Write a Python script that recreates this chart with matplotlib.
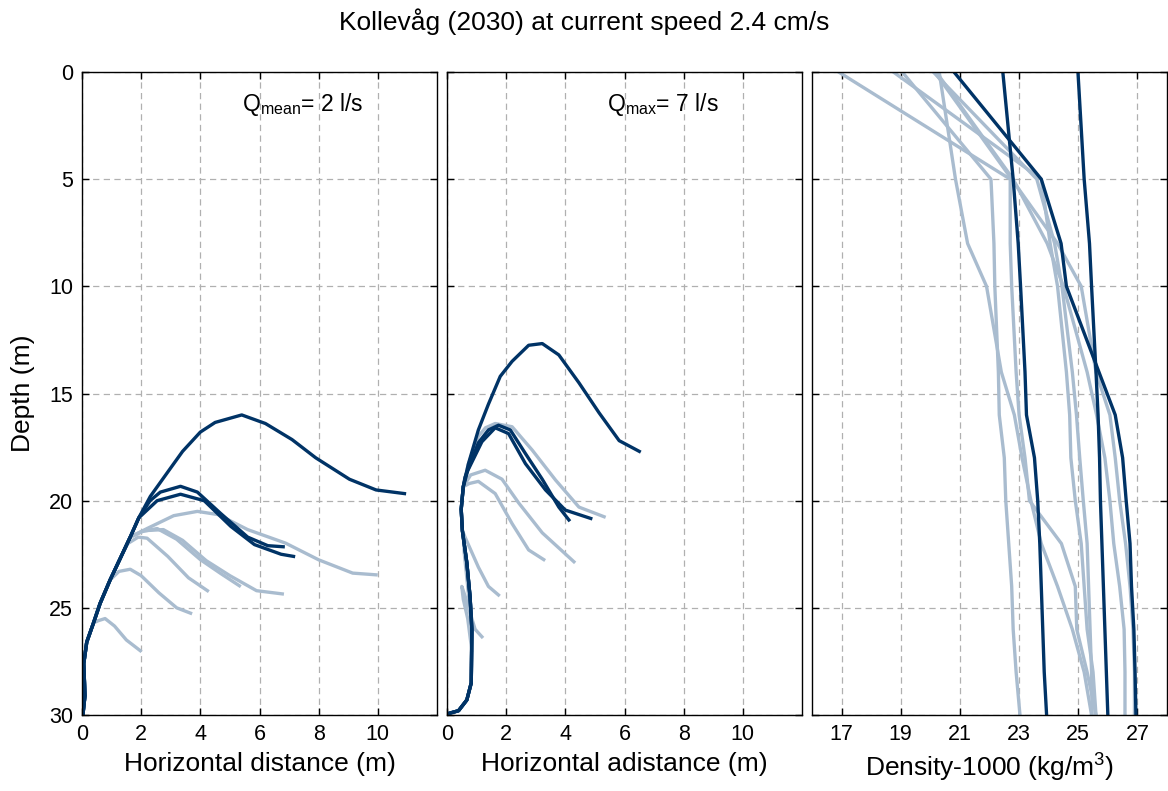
import matplotlib
matplotlib.use('Agg')
import matplotlib.pyplot as plt

plt.rcParams['font.family'] = ['Liberation Sans', 'DejaVu Sans']
plt.rcParams['mathtext.fontset'] = 'custom'
plt.rcParams['mathtext.rm'] = 'Liberation Sans'
plt.rcParams['mathtext.it'] = 'Liberation Sans'

DARK = '#003366'
LIGHT = '#a9bccf'

# ---- panel 1: plume trajectories, Q mean (x = horizontal distance m, d = depth m)
# shared rising part near the outlet
p1_rise_x = [0.03, 0.1, 0.06, 0.16, 0.39, 0.61, 0.95, 1.29]
p1_rise_d = [30.0, 29.1, 27.6, 26.6, 25.7, 24.8, 23.7, 22.7]

p1_dark = [
    ([1.63, 1.92, 2.31, 2.88, 3.4, 4.0, 4.5, 5.4, 6.2, 7.1, 7.9, 9.04, 9.94, 10.9],
     [21.7, 20.8, 19.8, 18.7, 17.7, 16.8, 16.35, 16.0, 16.4, 17.15, 18.0, 19.0, 19.5, 19.67]),
    ([1.63, 1.92, 2.3, 2.65, 3.33, 3.9, 4.69, 5.6, 6.28, 6.8],
     [21.7, 20.8, 20.0, 19.6, 19.33, 19.6, 20.6, 21.7, 22.1, 22.15]),
    ([1.63, 1.92, 2.54, 3.33, 4.13, 5.03, 5.83, 6.73, 7.15],
     [21.7, 20.8, 20.0, 19.7, 20.0, 21.2, 22.05, 22.5, 22.6]),
]
p1_light = [
    ([1.63, 2.2, 3.1, 3.9, 4.6, 5.6, 6.88, 8.0, 9.15, 9.94],
     [21.7, 21.3, 20.7, 20.5, 20.65, 21.35, 21.98, 22.76, 23.38, 23.46]),
    ([1.63, 2.1, 2.75, 3.4, 4.2, 5.0, 5.9, 6.77],
     [21.7, 21.4, 21.35, 21.85, 22.8, 23.5, 24.2, 24.35]),
    ([1.63, 2.0, 2.54, 3.2, 4.0, 4.69, 5.32],
     [21.7, 21.45, 21.3, 21.8, 22.75, 23.4, 23.97]),
    ([1.55, 1.9, 2.2, 2.9, 3.6, 4.24],
     [22.0, 21.7, 21.75, 22.6, 23.6, 24.2]),
    ([1.25, 1.63, 2.0, 2.6, 3.2, 3.67],
     [23.3, 23.2, 23.5, 24.3, 25.0, 25.25]),
    ([0.55, 0.78, 1.1, 1.5, 1.97],
     [25.6, 25.5, 25.85, 26.5, 27.0]),
]
p1_light_rise = [8, 8, 8, 8, 7, 5]  # rise points used by each light curve

# ---- panel 2: plume trajectories, Q max
p2_rise_x = [0.05, 0.39, 0.67, 0.82, 0.84, 0.78, 0.67, 0.52, 0.48, 0.55]
p2_rise_d = [29.93, 29.8, 29.3, 28.5, 26.0, 24.5, 22.9, 21.4, 20.4, 19.35]
p2_dark = [
    ([0.72, 1.06, 1.4, 1.8, 2.2, 2.76, 3.22, 3.78, 4.46, 5.14, 5.82, 6.5],
     [18.3, 16.7, 15.5, 14.2, 13.5, 12.75, 12.67, 13.2, 14.5, 15.9, 17.2, 17.7]),
    ([0.61, 1.06, 1.4, 1.74, 2.14, 2.65, 3.22, 3.78, 4.12],
     [18.9, 17.3, 16.7, 16.48, 16.7, 17.8, 19.0, 20.3, 20.9]),
    ([0.7, 1.18, 1.63, 2.08, 2.65, 3.33, 4.0, 4.86],
     [18.6, 17.25, 16.6, 16.87, 18.27, 19.5, 20.44, 20.83]),
]
p2_light = [
    ([0.72, 1.06, 1.3, 1.63, 2.2, 2.88, 3.67, 4.46, 5.31],
     [18.3, 17.0, 16.6, 16.4, 16.55, 17.64, 19.04, 20.3, 20.75]),
    ([0.8, 1.29, 1.86, 2.42, 3.22, 4.29],
     [18.8, 18.58, 19.0, 20.1, 21.5, 22.85]),
    ([0.75, 1.06, 1.63, 2.2, 2.76, 3.27],
     [19.2, 19.1, 19.67, 21.07, 22.3, 22.75]),
    ([0.84, 0.7, 0.58, 0.55, 0.61, 1.06, 1.4, 1.74],
     [26.0, 24.0, 22.4, 21.5, 21.7, 23.1, 24.0, 24.4]),
    ([0.84, 0.7, 0.55, 0.5, 0.6, 0.72, 0.95, 1.18],
     [27.0, 25.5, 24.6, 24.0, 24.4, 24.95, 26.0, 26.35]),
]
p2_light_rise = [True, True, True, False, False]

# ---- panel 3: density profiles (density-1000 vs depth)
dens_depth = [0, 5, 8, 10, 14, 16, 18, 20, 22, 24, 26, 28, 30]
dens_dark = [
    [22.45, 22.8, 22.97, 23.05, 23.2, 23.25, 23.52, 23.63, 23.7, 23.75, 23.8, 23.85, 23.93],
    [20.8, 23.75, 24.42, 24.6, 25.7, 26.25, 26.5, 26.62, 26.75, 26.8, 26.88, 26.92, 26.95],
    [24.99, 25.2, 25.38, 25.45, 25.6, 25.67, 25.72, 25.75, 25.8, 25.85, 25.9, 25.95, 26.0],
]
dens_light = [
    [16.9, 22.7, 22.7, 22.75, 22.9, 23.0, 23.2, 23.35, 24.43, 24.9, 24.95, 25.3, 25.6],
    [18.75, 23.75, 24.05, 24.3, 24.6, 24.71, 24.75, 24.9, 25.1, 25.2, 25.3, 25.5, 25.6],
    [19.05, 22.05, 22.15, 22.18, 22.3, 22.33, 22.5, 22.55, 22.65, 22.75, 22.8, 22.9, 23.03],
    [20.3, 20.85, 21.26, 21.9, 22.4, 22.84, 23.1, 23.4, 23.75, 24.3, 24.8, 25.2, 25.45],
    [20.2, 22.8, 23.95, 24.5, 25.3, 25.62, 25.9, 26.07, 26.2, 26.4, 26.55, 26.58, 26.58],
    [20.15, 22.75, 24.3, 25.1, 25.6, 26.07, 26.25, 26.4, 26.6, 26.75, 26.85, 26.9, 26.9],
    [20.1, 23.6, 24.2, 24.45, 24.8, 24.94, 25.05, 25.17, 25.3, 25.35, 25.4, 25.45, 25.47],
]

depth_ticks = [0, 5, 10, 15, 20, 25, 30]
dist_ticks = [0, 2, 4, 6, 8, 10]
dens_ticks = [17, 19, 21, 23, 25, 27]

fig = plt.figure(figsize=(11.68, 7.91), dpi=100)
W, H = 1168.0, 791.0
lefts = [82, 447, 812]
axes = [fig.add_axes([l / W, (H - 715) / H, 355 / W, 643 / H]) for l in lefts]

lw = 2.4
LBL = 19
for ax in axes:
    ax.set_ylim(30, 0)
    ax.set_yticks(depth_ticks)
    ax.tick_params(direction='in', top=True, right=True, length=5, width=1,
                   labelsize=15.5, pad=6.5)
    ax.grid(True, color='#b0b0b0', linestyle=(0, (5, 3.5)), linewidth=0.9)
    ax.set_axisbelow(True)
    for s in ax.spines.values():
        s.set_linewidth(1.0)

ax1, ax2, ax3 = axes

for (x, d), n in zip(p1_light, p1_light_rise):
    ax1.plot(p1_rise_x[:n] + x, p1_rise_d[:n] + d, color=LIGHT, lw=lw)
for x, d in p1_dark:
    ax1.plot(p1_rise_x + x, p1_rise_d + d, color=DARK, lw=lw)
ax1.set_xlim(0, 12)
ax1.set_xticks(dist_ticks)
ax1.set_ylabel('Depth (m)', fontsize=LBL, labelpad=10)
ax1.set_xlabel('Horizontal distance (m)', fontsize=LBL, labelpad=5)
ax1.text(5.4, 1.5, r'Q$_{\mathrm{mean}}$= 2 l/s', fontsize=16.5, va='center')

for (x, d), r in zip(p2_light, p2_light_rise):
    if r:
        ax2.plot(p2_rise_x + x, p2_rise_d + d, color=LIGHT, lw=lw)
    else:
        ax2.plot(x, d, color=LIGHT, lw=lw)
for x, d in p2_dark:
    ax2.plot(p2_rise_x + x, p2_rise_d + d, color=DARK, lw=lw)
ax2.set_xlim(0, 12)
ax2.set_xticks(dist_ticks)
ax2.set_yticklabels([])
ax2.set_xlabel('Horizontal adistance (m)', fontsize=LBL, labelpad=5)
ax2.text(5.4, 1.5, r'Q$_{\mathrm{max}}$= 7 l/s', fontsize=16.5, va='center')

for v in dens_light:
    ax3.plot(v, dens_depth, color=LIGHT, lw=lw)
for v in dens_dark:
    ax3.plot(v, dens_depth, color=DARK, lw=lw)
ax3.set_xlim(16, 28)
ax3.set_xticks(dens_ticks)
ax3.set_yticklabels([])
ax3.set_xlabel(r'Density-1000 (kg/m$^3$)', fontsize=LBL, labelpad=5)

fig.text(0.5, 1 - 22 / H, 'Kollevåg (2030) at current speed 2.4 cm/s',
         ha='center', va='center', fontsize=19)

fig.savefig('out.png', dpi=100)
